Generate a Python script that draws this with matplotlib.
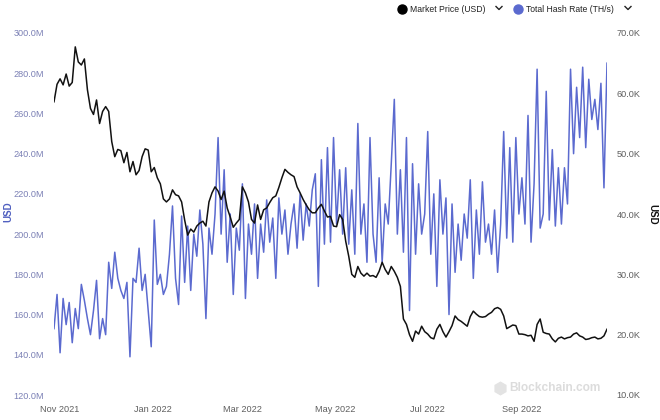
import matplotlib
matplotlib.use("Agg")
import matplotlib.pyplot as plt
import matplotlib.dates as mdates
from matplotlib.lines import Line2D
import pandas as pd

# ---- data (2-day sampling, Oct 28 2021 .. Oct 27 2022) ----
start_date = "2021-10-28"
step = "2D"

hash_rate_M = [
    153, 170, 141, 168, 155, 166, 146, 163, 153, 175,
    167, 158, 150, 162, 177, 148, 158, 150, 186, 173,
    191, 178, 172, 168, 176, 139, 178, 176, 193, 172,
    180, 162, 144, 207, 175, 180, 170, 174, 190, 214,
    178, 165, 209, 176, 204, 172, 200, 189, 212, 195,
    158, 203, 190, 210, 248, 200, 232, 186, 210, 170,
    203, 192, 225, 168, 205, 190, 215, 178, 205, 191,
    217, 196, 208, 178, 218, 200, 212, 190, 205, 215,
    193, 220, 197, 215, 204, 222, 230, 174, 237, 195,
    243, 196, 248, 205, 232, 200, 233, 195, 222, 190,
    255, 200, 215, 186, 248, 200, 186, 228, 186, 215,
    205, 235, 267, 200, 232, 191, 248, 162, 235, 190,
    225, 200, 210, 251, 190, 220, 174, 227, 200, 218,
    160, 215, 181, 205, 187, 210, 198, 227, 178, 212,
    190, 226, 196, 205, 190, 212, 181, 205, 251, 198,
    243, 196, 248, 210, 228, 205, 259, 196, 225, 282,
    203, 210, 271, 207, 242, 204, 233, 205, 233, 215,
    282, 240, 273, 248, 283, 243, 277, 257, 267, 252,
    275, 223, 285,
]

price_K = [
    58.6, 61.5, 62.4, 61.4, 63.2, 61.2, 61.8, 67.7, 65.2, 64.7,
    65.7, 60.6, 57.5, 56.5, 58.9, 55.0, 57.0, 57.8, 57.0, 52.0,
    49.5, 50.7, 50.5, 48.5, 50.2, 47.0, 48.7, 46.5, 47.2, 49.5,
    50.8, 50.6, 47.0, 47.7, 46.0, 45.0, 42.5, 42.0, 42.5, 44.0,
    43.2, 43.0, 42.0, 39.0, 36.5, 37.5, 37.0, 38.0, 38.5, 38.8,
    38.0, 42.0, 43.5, 44.5, 43.8, 42.4, 43.8, 41.0, 39.5, 37.8,
    38.5, 39.1, 44.5, 43.5, 42.0, 39.1, 38.5, 41.5, 39.1, 40.7,
    41.0, 41.9, 42.7, 43.0, 44.4, 46.0, 47.4, 46.9, 46.5, 46.2,
    44.5, 43.5, 42.4, 41.5, 40.7, 40.2, 40.2, 41.0, 41.6, 40.5,
    39.5, 39.6, 38.0, 37.9, 39.9, 39.1, 35.5, 33.0, 30.0, 29.5,
    31.3, 30.2, 29.7, 30.2, 29.7, 29.8, 29.5, 30.5, 32.0, 30.8,
    30.0, 31.3, 30.5, 29.5, 28.0, 22.6, 21.7, 20.0, 18.9, 20.6,
    20.1, 21.4, 20.5, 20.1, 19.5, 19.3, 20.9, 21.7, 20.5, 19.6,
    20.5, 21.5, 23.1, 22.5, 22.2, 21.8, 21.4, 23.0, 23.9, 23.4,
    23.0, 22.9, 23.0, 23.4, 23.7, 24.3, 24.5, 24.2, 23.1, 21.0,
    21.3, 21.6, 21.5, 20.1, 20.1, 20.0, 19.8, 19.9, 18.9, 21.7,
    22.6, 20.4, 20.2, 20.1, 19.3, 18.8, 19.4, 19.6, 19.3, 19.5,
    19.6, 20.1, 20.3, 19.8, 19.6, 19.2, 19.3, 19.5, 19.6, 19.3,
    19.4, 19.8, 20.9,
]

left_ticks = [120, 140, 160, 180, 200, 220, 240, 260, 280, 300]
right_ticks = [10, 20, 30, 40, 50, 60, 70]
x_tick_dates = ["2021-11-01", "2022-01-01", "2022-03-01", "2022-05-01",
                "2022-07-01", "2022-09-01"]
legend_labels = ["Market Price (USD)", "Total Hash Rate (TH/s)"]

dates = pd.date_range(start_date, periods=len(hash_rate_M), freq=step)

BLUE = "#5b6acf"
TICKBLUE = "#7b80b5"
GRAY = "#5f5f5f"

plt.rcParams["font.family"] = ["Liberation Sans", "DejaVu Sans"]
fig = plt.figure(figsize=(6.6, 4.2), dpi=100)
ax = fig.add_axes([54 / 660, 1 - 395 / 420, (607 - 54) / 660, (395 - 33) / 420])
ax2 = ax.twinx()

ax.plot(dates, hash_rate_M, color=BLUE, lw=1.1)
ax2.plot(dates, price_K, color="#111111", lw=1.1)

ax.set_xlim(dates[0], dates[-1])
ax.set_ylim(120, 300)
ax2.set_ylim(10, 70)

ax.set_yticks(left_ticks)
ax.set_yticklabels([f"{v:.1f}M" for v in left_ticks])
ax2.set_yticks(right_ticks)
ax2.set_yticklabels([f"{v:.1f}K" for v in right_ticks])
ax.set_xticks(pd.to_datetime(x_tick_dates))
ax.xaxis.set_major_formatter(mdates.DateFormatter("%b %Y"))

for a in (ax, ax2):
    for s in a.spines.values():
        s.set_visible(False)
ax.tick_params(axis="y", length=0, pad=7, labelsize=6.6, labelcolor=TICKBLUE)
ax.tick_params(axis="x", length=0, pad=7, labelsize=6.6, labelcolor=GRAY)
ax2.tick_params(axis="y", length=0, pad=7, labelsize=6.6, labelcolor=GRAY)

fig.text(8 / 660, 1 - 212 / 420, "USD", rotation=90, color="#5060c0",
         fontsize=7, fontweight="bold", ha="center", va="center")
fig.text(652 / 660, 1 - 214 / 420, "USD", rotation=270, color="#111111",
         fontsize=7, fontweight="bold", ha="center", va="center")

# legend (top right)
def chevron(xc, yc):
    xs = [(xc - 3) / 660, xc / 660, (xc + 3) / 660]
    ys = [1 - (yc - 1.5) / 420, 1 - (yc + 1.5) / 420, 1 - (yc - 1.5) / 420]
    fig.add_artist(Line2D(xs, ys, color="#222222", lw=1.0,
                          transform=fig.transFigure))

fig.add_artist(Line2D([402 / 660], [1 - 9 / 420], marker="o", ms=6.5,
                      color="#000000", transform=fig.transFigure))
fig.text(410 / 660, 1 - 9 / 420, legend_labels[0], fontsize=6.2,
         color="#222222", ha="left", va="center")
chevron(499, 8)
fig.add_artist(Line2D([518 / 660], [1 - 9 / 420], marker="o", ms=6.5,
                      color=BLUE, transform=fig.transFigure))
fig.text(526 / 660, 1 - 9 / 420, legend_labels[1], fontsize=6.2,
         color="#222222", ha="left", va="center")
chevron(628, 8)

# watermark
fig.add_artist(Line2D([500 / 660], [1 - 388 / 420], marker="h", ms=9,
                      color="#e3e3e3", transform=fig.transFigure))
fig.text(509 / 660, 1 - 388 / 420, "Blockchain.com", fontsize=8.6,
         fontweight="bold", color="#dcdcdc", ha="left", va="center")

fig.savefig("out.png", dpi=100)
